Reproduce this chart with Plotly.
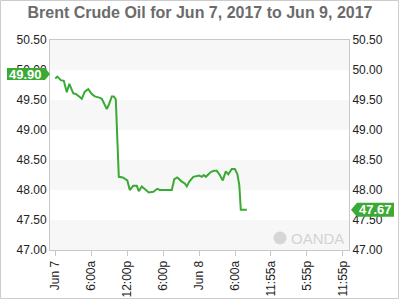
import plotly.graph_objects as go

# ---- data ----
times = [
    "2017-06-07 00:00", "2017-06-07 00:20", "2017-06-07 00:55", "2017-06-07 01:25",
    "2017-06-07 01:55", "2017-06-07 02:20", "2017-06-07 03:00", "2017-06-07 03:25",
    "2017-06-07 04:05", "2017-06-07 04:25", "2017-06-07 04:55", "2017-06-07 05:30",
    "2017-06-07 06:05", "2017-06-07 06:35", "2017-06-07 07:20", "2017-06-07 07:45",
    "2017-06-07 08:35", "2017-06-07 08:55", "2017-06-07 09:25", "2017-06-07 09:45",
    "2017-06-07 10:05", "2017-06-07 10:35", "2017-06-07 11:15", "2017-06-07 12:00",
    "2017-06-07 12:25", "2017-06-07 13:00", "2017-06-07 13:35", "2017-06-07 13:55",
    "2017-06-07 14:25", "2017-06-07 14:55", "2017-06-07 15:35", "2017-06-07 16:20",
    "2017-06-07 17:00", "2017-06-07 17:25", "2017-06-07 19:25", "2017-06-07 19:50",
    "2017-06-07 20:20", "2017-06-07 21:05", "2017-06-07 21:35", "2017-06-07 21:55",
    "2017-06-07 22:20", "2017-06-07 23:00", "2017-06-07 23:35", "2017-06-08 00:00",
    "2017-06-08 00:25", "2017-06-08 00:45", "2017-06-08 01:05", "2017-06-08 01:55",
    "2017-06-08 02:25", "2017-06-08 02:55", "2017-06-08 03:25", "2017-06-08 03:55",
    "2017-06-08 04:25", "2017-06-08 04:50", "2017-06-08 05:25", "2017-06-08 05:55",
    "2017-06-08 06:20", "2017-06-08 06:40", "2017-06-08 06:55", "2017-06-08 07:55",
]
prices = [
    49.86, 49.89, 49.83, 49.82,
    49.63, 49.77, 49.61, 49.60,
    49.55, 49.52, 49.64, 49.68,
    49.60, 49.56, 49.54, 49.52,
    49.35, 49.42, 49.56, 49.56,
    49.51, 48.22, 48.21, 48.16,
    48.00, 48.07, 48.07, 47.98,
    48.06, 48.01, 47.96, 47.97,
    48.02, 48.00, 48.00, 48.18,
    48.21, 48.14, 48.11, 48.06,
    48.14, 48.22, 48.23, 48.24,
    48.22, 48.25, 48.22, 48.30,
    48.32, 48.32, 48.25, 48.16,
    48.31, 48.26, 48.35, 48.35,
    48.27, 48.08, 47.67, 47.67,
]
tick_vals = [
    "2017-06-07 00:00", "2017-06-07 06:00", "2017-06-07 12:00", "2017-06-07 18:00",
    "2017-06-08 00:00", "2017-06-08 06:00", "2017-06-08 11:55", "2017-06-08 17:55",
    "2017-06-08 23:55",
]
tick_text = ["Jun 7", "6:00a", "12:00p", "6:00p", "Jun 8", "6:00a", "11:55a", "5:55p", "11:55p"]
y_ticks = [47.0, 47.5, 48.0, 48.5, 49.0, 49.5, 50.0, 50.5]
band_ranges = [(50.0, 50.5), (49.0, 49.5), (48.0, 48.5), (47.0, 47.5)]
open_label = 49.90
last_label = 47.67
title = "Brent Crude Oil for Jun 7, 2017 to Jun 9, 2017"

GREEN = "#3aaa35"
GRID = "#c8c8c8"
FONT = "Liberation Sans, Arial, sans-serif"

fig = go.Figure()
fig.add_trace(go.Scatter(x=times, y=prices, mode="lines",
                         line=dict(color=GREEN, width=2), showlegend=False,
                         hoverinfo="skip"))
fig.add_trace(go.Scatter(x=[times[0]], y=[prices[0]], yaxis="y2", mode="markers",
                         marker=dict(opacity=0), showlegend=False, hoverinfo="skip"))

shapes = []
for lo, hi in band_ranges:
    shapes.append(dict(type="rect", xref="paper", yref="y", x0=0, x1=1, y0=lo, y1=hi,
                       fillcolor="#f7f7f7", line=dict(width=0), layer="below"))
# outer frame
shapes.append(dict(type="rect", xref="paper", yref="paper",
                   x0=(0.5 - 50) / 299, x1=(398.5 - 50) / 299,
                   y0=(250 - 298.5) / 210, y1=(250 - 0.5) / 210,
                   line=dict(color="#cccccc", width=1), fillcolor="rgba(0,0,0,0)"))
# left price tag
shapes.append(dict(type="path", xref="paper", yref="y", xsizemode="pixel", ysizemode="pixel",
                   xanchor=0, yanchor=open_label,
                   path="M -43,-4 L -5,-4 L 0,2 L -5,8 L -43,8 Z",
                   fillcolor=GREEN, line=dict(width=0)))
# right price tag
shapes.append(dict(type="path", xref="paper", yref="y", xsizemode="pixel", ysizemode="pixel",
                   xanchor=1, yanchor=last_label,
                   path="M 2,0 L 8,-7 L 45,-7 L 45,7 L 8,7 Z",
                   fillcolor=GREEN, line=dict(width=0)))
# watermark logo circle
shapes.append(dict(type="circle", xref="paper", yref="y", xsizemode="pixel", ysizemode="pixel",
                   xanchor=(280 - 50) / 299, yanchor=47.2,
                   x0=-6.5, x1=6.5, y0=-6.5, y1=6.5,
                   fillcolor="#d6d6d6", line=dict(width=0)))

annotations = [
    dict(text="49.90", xref="paper", yref="y", x=0, y=open_label, xshift=-25, yshift=2,
         showarrow=False, font=dict(family=FONT, size=13, color="white", weight="bold"),
         xanchor="center", yanchor="middle"),
    dict(text="47.67", xref="paper", yref="y", x=1, y=last_label, xshift=26,
         showarrow=False, font=dict(family=FONT, size=13, color="white", weight="bold"),
         xanchor="center", yanchor="middle"),
    dict(text="OANDA", xref="paper", yref="y", x=(346 - 50) / 299, y=47.2,
         showarrow=False, font=dict(family=FONT, size=15, color="#d3d3d3"),
         xanchor="right", yanchor="middle"),
]

yax = dict(range=[47.0, 50.5], tickvals=y_ticks, tickformat=".2f",
           showgrid=False, zeroline=False, showline=True, linecolor=GRID, linewidth=1,
           ticks="", tickfont=dict(family=FONT, size=12, color="#222222"), fixedrange=True,
           automargin=False)

fig.update_layout(
    width=400, height=300,
    margin=dict(l=50, r=51, t=40, b=50),
    paper_bgcolor="white", plot_bgcolor="white",
    title=dict(text=title, x=0.5, xanchor="center", y=(300 - 12) / 300, yanchor="middle",
               yref="container", automargin=False,
               font=dict(family=FONT, size=16, color="#6b6b6b", weight="bold")),
    xaxis=dict(type="date", range=["2017-06-06 23:07", "2017-06-09 00:57"],
               tickvals=tick_vals, ticktext=tick_text, tickangle=-90,
               ticks="outside", ticklen=5, tickcolor=GRID,
               showgrid=False, zeroline=False, showline=True, linecolor=GRID,
               mirror=True, automargin=False,
               tickfont=dict(family=FONT, size=12, color="#222222")),
    yaxis=yax,
    yaxis2=dict(yax, overlaying="y", side="right", matches="y"),
    shapes=shapes,
    annotations=annotations,
    showlegend=False,
)

fig.write_html("out.html")
